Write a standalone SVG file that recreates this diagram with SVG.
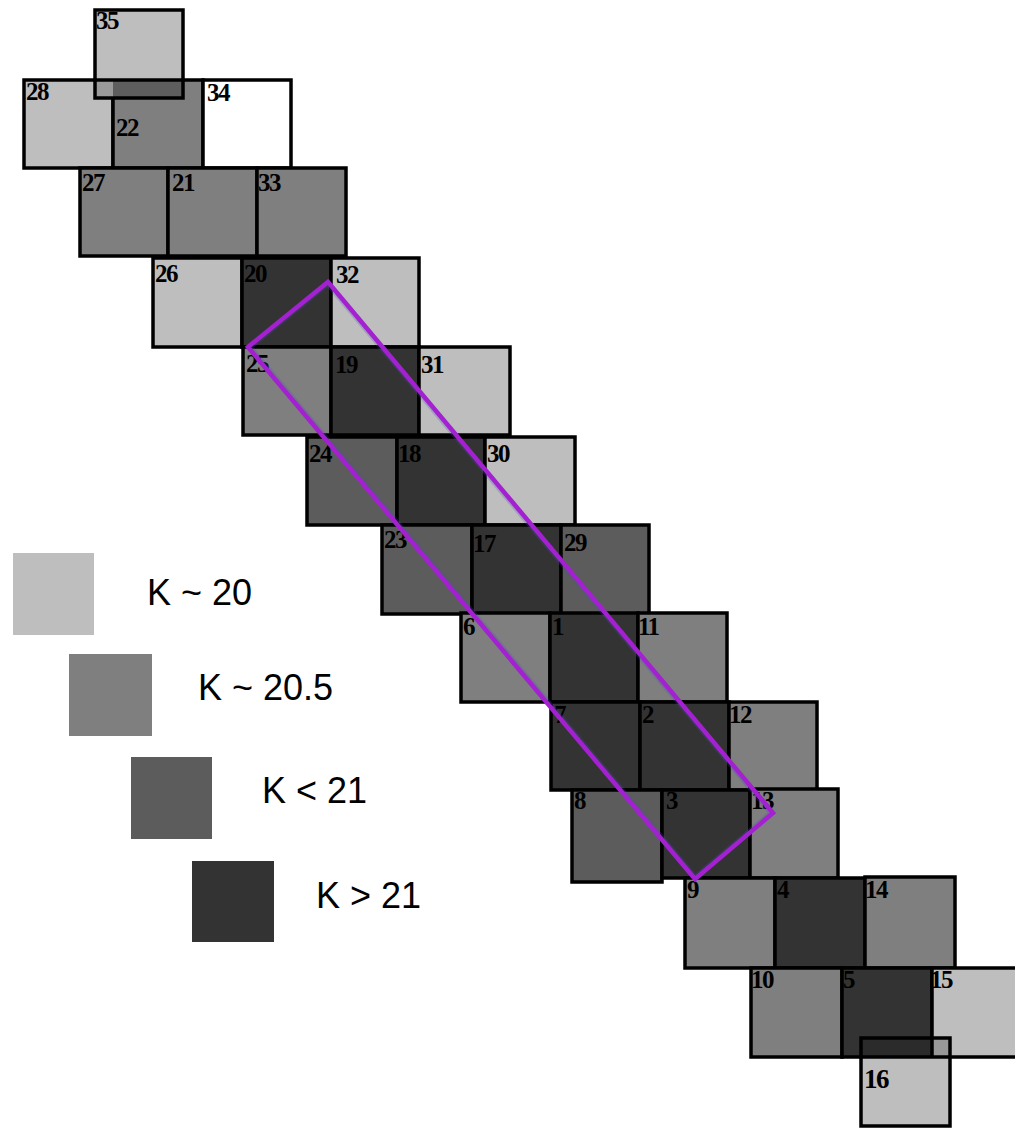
<svg xmlns="http://www.w3.org/2000/svg" width="1015" height="1128" viewBox="0 0 1015 1128">
  <style>
    .light { fill: #bebebe; }
    .mid { fill: #7f7f7f; }
    .lt21 { fill: #5c5c5c; }
    .dark { fill: #333333; }
    .white { fill: #ffffff; }
    .edge { fill: none; stroke: #000000; stroke-width: 3.5; }
    .lbl { font-family: "Liberation Serif", "Times New Roman", serif; font-weight: bold; font-size: 25px; fill: #000000; letter-spacing: -1.5px; }
    .key { font-family: "Liberation Sans", Arial, sans-serif; font-size: 36px; fill: #000000; }
  </style>
  <defs>
    <clipPath id="bandClip">
      <polygon points="328,282 773,813 695,879 248,347"/>
    </clipPath>
  </defs>
  <rect width="1015" height="1128" fill="#ffffff"/>

  <!-- tiles: fill, outline, number -->
  <g id="tiles">
    <g id="n28"><rect class="light" x="24" y="80" width="89" height="88"/><rect class="edge" x="24" y="80" width="89" height="88"/><text class="lbl" x="26" y="100">28</text></g>
    <g id="n22"><rect class="mid" x="113" y="80" width="90" height="88"/><rect class="edge" x="113" y="80" width="90" height="88"/><text class="lbl" x="116" y="136">22</text></g>
    <g id="n34"><rect class="white" x="203" y="80" width="88" height="88"/><rect class="edge" x="203" y="80" width="88" height="88"/><text class="lbl" x="207" y="101">34</text></g>
    <g id="n35">
      <rect class="light" x="95" y="10" width="88" height="88"/>
      <rect x="95" y="80" width="18" height="18" fill="#9a9a9a"/>
      <rect x="113" y="80" width="70" height="18" fill="#5e5e5e"/>
      <rect class="edge" x="95" y="10" width="88" height="88"/>
      <line x1="95" y1="80" x2="183" y2="80" stroke="#000" stroke-width="3.5"/>
      <text class="lbl" x="96" y="29">35</text>
    </g>

    <g id="n27"><rect class="mid" x="80" y="168" width="88" height="88"/><rect class="edge" x="80" y="168" width="88" height="88"/><text class="lbl" x="82" y="191">27</text></g>
    <g id="n21"><rect class="mid" x="168" y="168" width="89" height="88"/><rect class="edge" x="168" y="168" width="89" height="88"/><text class="lbl" x="172" y="191">21</text></g>
    <g id="n33"><rect class="mid" x="257" y="168" width="89" height="88"/><rect class="edge" x="257" y="168" width="89" height="88"/><text class="lbl" x="258" y="191">33</text></g>

    <g id="n26"><rect class="light" x="153" y="258" width="89" height="89"/><rect class="edge" x="153" y="258" width="89" height="89"/><text class="lbl" x="155" y="282">26</text></g>
    <g id="n20"><rect class="dark" x="242" y="258" width="89" height="89"/><rect class="edge" x="242" y="258" width="89" height="89"/><text class="lbl" x="244" y="282">20</text></g>
    <g id="n32"><rect class="light" x="331" y="258" width="88" height="89"/><rect class="edge" x="331" y="258" width="88" height="89"/><text class="lbl" x="336" y="283">32</text></g>

    <g id="n25"><rect class="mid" x="243" y="347" width="88" height="88"/><rect class="edge" x="243" y="347" width="88" height="88"/><text class="lbl" x="246" y="372">25</text></g>
    <g id="n19"><rect class="dark" x="331" y="347" width="88" height="88"/><rect class="edge" x="331" y="347" width="88" height="88"/><text class="lbl" x="335" y="373">19</text></g>
    <g id="n31"><rect class="light" x="419" y="347" width="91" height="88"/><rect class="edge" x="419" y="347" width="91" height="88"/><text class="lbl" x="421" y="373">31</text></g>

    <g id="n24"><rect class="lt21" x="307" y="437" width="90" height="88"/><rect class="edge" x="307" y="437" width="90" height="88"/><text class="lbl" x="309" y="462">24</text></g>
    <g id="n18"><rect class="dark" x="397" y="437" width="88" height="88"/><rect class="edge" x="397" y="437" width="88" height="88"/><text class="lbl" x="398" y="462">18</text></g>
    <g id="n30"><rect class="light" x="485" y="437" width="90" height="88"/><rect class="edge" x="485" y="437" width="90" height="88"/><text class="lbl" x="487" y="462">30</text></g>

    <g id="n23"><rect class="lt21" x="382" y="525" width="90" height="89"/><rect class="edge" x="382" y="525" width="90" height="89"/><text class="lbl" x="384" y="548">23</text></g>
    <g id="n17"><rect class="dark" x="472" y="525" width="89" height="89"/><rect class="edge" x="472" y="525" width="89" height="89"/><text class="lbl" x="473" y="552">17</text></g>
    <g id="n29"><rect class="lt21" x="561" y="525" width="88" height="89"/><rect class="edge" x="561" y="525" width="88" height="89"/><text class="lbl" x="564" y="551">29</text></g>

    <g id="n6"><rect class="mid" x="461" y="613" width="89" height="89"/><rect class="edge" x="461" y="613" width="89" height="89"/><text class="lbl" x="463" y="635">6</text></g>
    <g id="n1"><rect class="dark" x="550" y="613" width="88" height="89"/><rect class="edge" x="550" y="613" width="88" height="89"/><text class="lbl" x="552" y="635">1</text></g>
    <g id="n11"><rect class="mid" x="638" y="613" width="89" height="89"/><rect class="edge" x="638" y="613" width="89" height="89"/><text class="lbl" x="638" y="635">11</text></g>

    <g id="n7"><rect class="dark" x="551" y="702" width="89" height="88"/><rect class="edge" x="551" y="702" width="89" height="88"/><text class="lbl" x="554" y="723">7</text></g>
    <g id="n2"><rect class="dark" x="640" y="702" width="89" height="88"/><rect class="edge" x="640" y="702" width="89" height="88"/><text class="lbl" x="642" y="723">2</text></g>
    <g id="n12"><rect class="mid" x="729" y="702" width="88" height="88"/><rect class="edge" x="729" y="702" width="88" height="88"/><text class="lbl" x="729" y="723">12</text></g>

    <g id="n8"><rect class="lt21" x="572" y="790" width="90" height="92"/><rect class="edge" x="572" y="790" width="90" height="92"/><text class="lbl" x="574" y="809">8</text></g>
    <g id="n3"><rect class="dark" x="662" y="790" width="88" height="88"/><rect class="edge" x="662" y="790" width="88" height="88"/><text class="lbl" x="666" y="809">3</text></g>
    <g id="n13"><rect class="mid" x="750" y="789" width="88" height="89"/><rect class="edge" x="750" y="789" width="88" height="89"/><text class="lbl" x="751" y="809">13</text></g>

    <g id="n9"><rect class="mid" x="685" y="878" width="90" height="90"/><rect class="edge" x="685" y="878" width="90" height="90"/><text class="lbl" x="687" y="898">9</text></g>
    <g id="n4"><rect class="dark" x="775" y="878" width="90" height="90"/><rect class="edge" x="775" y="878" width="90" height="90"/><text class="lbl" x="777" y="898">4</text></g>
    <g id="n14"><rect class="mid" x="865" y="877" width="90" height="91"/><rect class="edge" x="865" y="877" width="90" height="91"/><text class="lbl" x="865" y="898">14</text></g>

    <g id="n10"><rect class="mid" x="751" y="968" width="91" height="89"/><rect class="edge" x="751" y="968" width="91" height="89"/><text class="lbl" x="751" y="988">10</text></g>
    <g id="n5"><rect class="dark" x="842" y="968" width="90" height="89"/><rect class="edge" x="842" y="968" width="90" height="89"/><text class="lbl" x="843" y="988">5</text></g>
    <g id="n15"><rect class="light" x="932" y="968" width="90" height="89"/><rect class="edge" x="932" y="968" width="90" height="89"/><text class="lbl" x="930" y="988">15</text></g>
    <g id="n16">
      <rect class="light" x="861" y="1038" width="89" height="88"/>
      <rect x="861" y="1038" width="71" height="19" fill="#2b2b2b"/>
      <rect x="932" y="1038" width="18" height="19" fill="#989898"/>
      <rect class="edge" x="861" y="1038" width="89" height="88"/>
      <line x1="861" y1="1057" x2="950" y2="1057" stroke="#000" stroke-width="3.5"/>
      <line x1="932" y1="1038" x2="932" y2="1057" stroke="#000" stroke-width="3.5"/>
      <text class="lbl" x="864" y="1088" style="font-size:27px">16</text>
    </g>
  </g>

  <!-- highlighted strip across the tiles -->
  <g id="strip">
    <polygon points="328,282 773,813 695,879 248,347" fill="none" stroke="#4a4ac0" stroke-opacity="0.25" stroke-width="8" clip-path="url(#bandClip)"/>
    <polygon points="328,282 773,813 695,879 248,347" fill="none" stroke="#a321d0" stroke-width="4.5" stroke-linejoin="miter"/>
  </g>

  <!-- colour key -->
  <g id="legend">
    <g id="key-20"><rect class="light" x="13" y="553" width="81" height="82"/><text class="key" x="147" y="605">K ~ 20</text></g>
    <g id="key-205"><rect class="mid" x="69" y="654" width="83" height="82"/><text class="key" x="198" y="700">K ~ 20.5</text></g>
    <g id="key-lt21"><rect class="lt21" x="131" y="757" width="81" height="82"/><text class="key" x="262" y="803">K &lt; 21</text></g>
    <g id="key-gt21"><rect class="dark" x="192" y="861" width="82" height="81"/><text class="key" x="316" y="908">K &gt; 21</text></g>
  </g>
</svg>
